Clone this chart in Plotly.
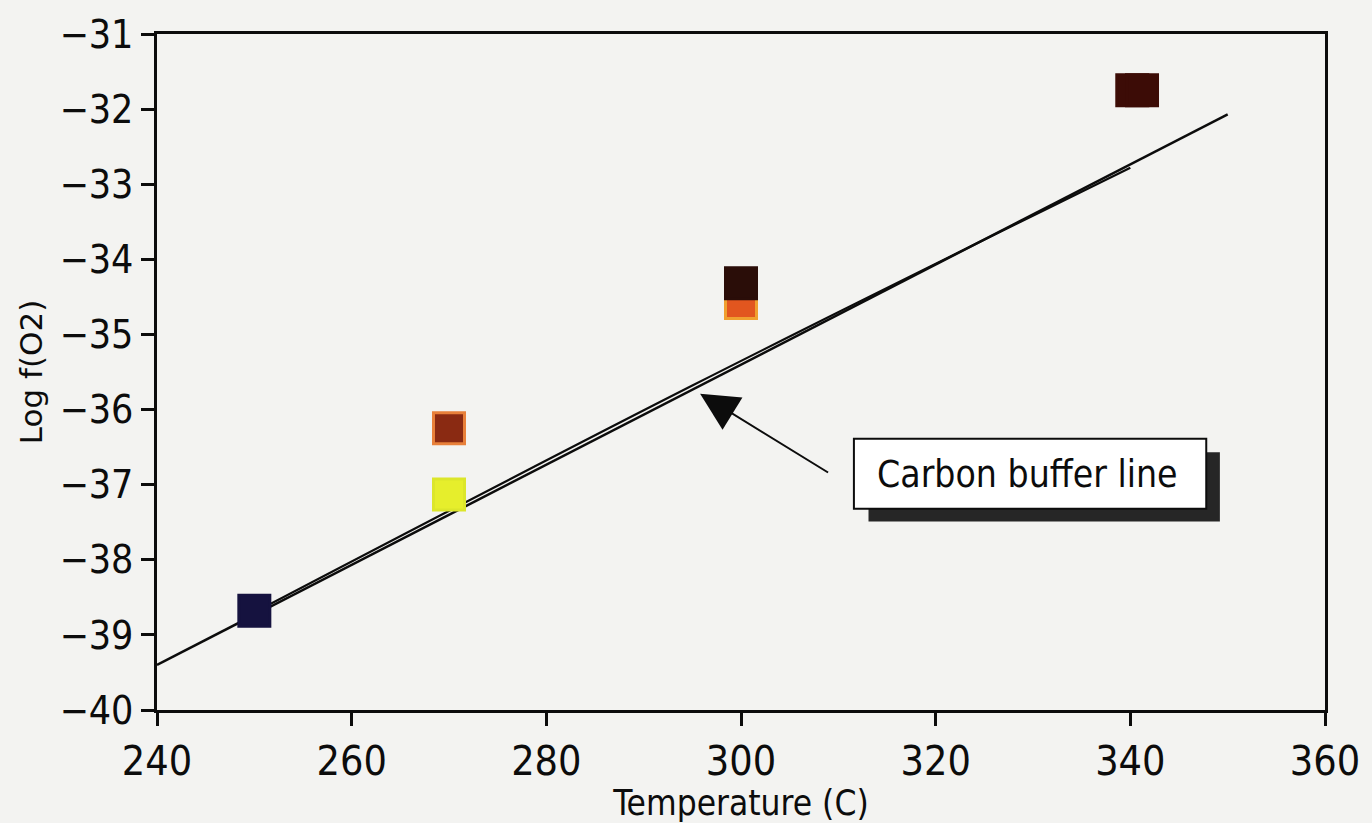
import plotly.graph_objects as go

# Measured oxygen fugacity at each run temperature
temps = [250, 270, 270, 300, 300, 340.2, 341.2]
log_fo2 = [-38.68, -36.25, -37.13, -34.58, -34.32, -31.75, -31.75]
fill_colors = ["#15123f", "#8a2a12", "#e6ee2c", "#e2561f", "#2a0d08", "#3c0c06", "#3c0c06"]
edge_colors = ["#15123f", "#e8803a", "#dce62a", "#f0a030", "#2a0d08", "#3c0c06", "#3c0c06"]

# Carbon buffer reference curve (two overlaid traces)
buffer_a_t = [240, 350]
buffer_a_f = [-39.4, -32.07]
buffer_b_t = [250, 295, 340]
buffer_b_f = [-38.7, -35.68, -32.78]

x_ticks = [240, 260, 280, 300, 320, 340, 360]
y_ticks = [-31, -32, -33, -34, -35, -36, -37, -38, -39, -40]

FONT = "DejaVu Sans Condensed, DejaVu Sans, sans-serif"
TITLE_FONT = "DejaVu Sans, sans-serif"
INK = "#0c0c0c"
BG = "#f3f3f1"

fig = go.Figure()

fig.add_trace(go.Scatter(x=buffer_a_t, y=buffer_a_f, mode="lines",
                         line=dict(color=INK, width=2.5), showlegend=False))
fig.add_trace(go.Scatter(x=buffer_b_t, y=buffer_b_f, mode="lines",
                         line=dict(color=INK, width=2.2, shape="spline"), showlegend=False))

fig.add_trace(go.Scatter(
    x=temps, y=log_fo2, mode="markers", showlegend=False,
    marker=dict(symbol="square", size=31, color=fill_colors,
                line=dict(color=edge_colors, width=3)),
))

# Label box with drop shadow
fig.add_shape(type="rect", x0=313.1, x1=349.2, y0=-37.49, y1=-36.57,
              xref="x", yref="y", fillcolor="#262626", line=dict(width=0), layer="above")
fig.add_shape(type="rect", x0=311.6, x1=347.8, y0=-37.32, y1=-36.39,
              xref="x", yref="y", fillcolor="white", line=dict(color=INK, width=2),
              layer="above")
fig.add_annotation(x=329.4, y=-36.86, xref="x", yref="y", text="Carbon buffer line",
                   showarrow=False, font=dict(family=FONT, size=37, color=INK))

# Arrow pointing at the buffer line
fig.add_annotation(x=295.8, y=-35.79, ax=309.1, ay=-36.85, xref="x", yref="y",
                   axref="x", ayref="y", text="", showarrow=True,
                   arrowhead=2, arrowsize=3.8, arrowwidth=2, arrowcolor=INK)

axis_common = dict(showline=True, linecolor=INK, linewidth=2.5, mirror=True,
                   ticks="outside", ticklen=13, tickwidth=2.5, tickcolor=INK,
                   showgrid=False, zeroline=False)

fig.update_xaxes(range=[240, 360], tickvals=x_ticks, ticktext=[str(v) for v in x_ticks],
                 tickfont=dict(family=FONT, size=41, color=INK),
                 title=dict(text="Temperature (C)", font=dict(family=FONT, size=35, color=INK),
                            standoff=2),
                 **axis_common)
fig.update_yaxes(range=[-40, -31], tickvals=y_ticks, ticktext=["\u2212" + str(-v) for v in y_ticks],
                 tickfont=dict(family=FONT, size=39, color=INK),
                 title=dict(text="Log f(O2)", font=dict(family=TITLE_FONT, size=31, color=INK),
                            standoff=8),
                 **axis_common)

fig.update_layout(width=1372, height=823,
                  margin=dict(l=157, r=41, t=27, b=106),
                  paper_bgcolor=BG, plot_bgcolor=BG)

fig.write_html("out.html")
